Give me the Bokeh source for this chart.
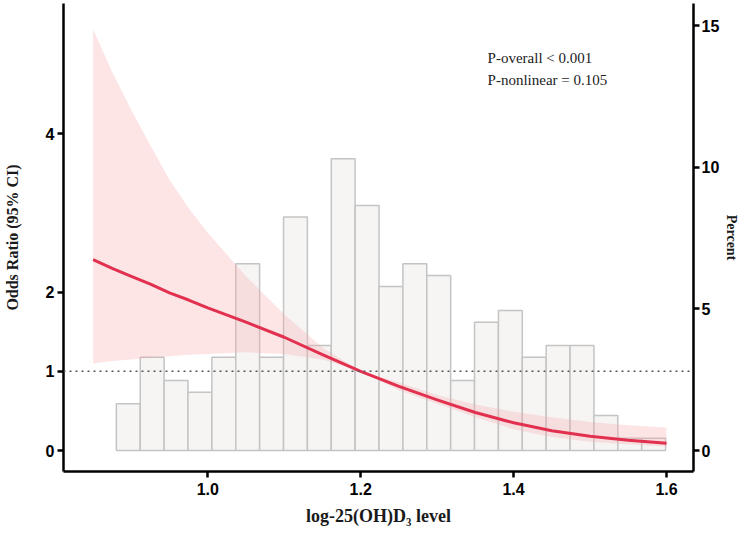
from bokeh.plotting import figure
from bokeh.models import Range1d, LinearAxis, FixedTicker, Span, Label, NumeralTickFormatter
from bokeh.embed import file_html
from bokeh.resources import INLINE

# ---- data ----
bin_centers = [0.8960, 0.9273, 0.9585, 0.9897, 1.0210, 1.0522, 1.0834, 1.1147,
               1.1459, 1.1771, 1.2084, 1.2396, 1.2708, 1.3021, 1.3333, 1.3645,
               1.3958, 1.4270, 1.4582, 1.4895, 1.5207, 1.5519, 1.5832]
bin_width = 0.0312
percent = [1.65, 3.29, 2.47, 2.06, 3.29, 6.59, 3.29, 8.24, 3.71, 10.30, 8.65, 5.79,
           6.59, 6.18, 2.47, 4.53, 4.94, 3.29, 3.71, 3.71, 1.24, 0.43, 0.43]

curve_x = [0.85, 0.875, 0.90, 0.925, 0.95, 0.975, 1.00, 1.05, 1.10, 1.15, 1.20,
           1.25, 1.30, 1.35, 1.40, 1.45, 1.50, 1.55, 1.60]
or_est = [2.41, 2.30, 2.20, 2.10, 1.99, 1.90, 1.80, 1.62, 1.43, 1.21, 1.00,
          0.81, 0.64, 0.48, 0.35, 0.25, 0.18, 0.13, 0.092]
or_upper = [5.32, 4.78, 4.30, 3.85, 3.42, 3.06, 2.75, 2.20, 1.72, 1.30, 1.00,
            0.86, 0.70, 0.58, 0.49, 0.42, 0.36, 0.32, 0.29]
or_lower = [1.10, 1.13, 1.15, 1.17, 1.19, 1.21, 1.22, 1.24, 1.22, 1.15, 1.00,
            0.76, 0.59, 0.42, 0.27, 0.17, 0.11, 0.075, 0.05]

x_ticks = [1.0, 1.2, 1.4, 1.6]
or_ticks = [0, 1, 2, 4]
pct_ticks = [0, 5, 10, 15]
ref_or = 1.0

annot_1 = "P-overall  < 0.001"
annot_2 = "P-nonlinear = 0.105"

# ---- figure ----
p = figure(width=744, height=533,
           x_range=Range1d(0.8113, 1.6353), y_range=Range1d(-0.265, 5.644),
           output_backend="svg", toolbar_location=None,
           min_border_left=61, min_border_right=51,
           min_border_top=3, min_border_bottom=62)
p.extra_y_ranges = {"pct": Range1d(-0.741, 15.78)}
p.xgrid.visible = False
p.ygrid.visible = False
p.outline_line_color = None
p.background_fill_color = "white"
p.border_fill_color = "white"

# histogram
p.vbar(x=bin_centers, width=bin_width, top=percent, bottom=0, y_range_name="pct",
       fill_color="#f6f5f4", line_color="#c4c4c4", line_width=1.5)

# confidence band
p.varea(x=curve_x, y1=or_lower, y2=or_upper, fill_color="#f7a8ab", fill_alpha=0.3)

# OR curve
p.line(curve_x, or_est, line_color="#e2304f", line_width=3, line_join="round")

# reference line
p.add_layout(Span(location=ref_or, dimension="width", line_color="#555555",
                  line_dash="2 4", line_width=1.5))

def style(ax):
    ax.axis_line_width = 2.5
    ax.axis_line_color = "black"
    ax.major_tick_line_width = 2.5
    ax.major_tick_line_color = "black"
    ax.major_tick_out = 6
    ax.major_tick_in = 0
    ax.minor_tick_line_color = None
    ax.major_label_text_font = "Liberation Sans"
    ax.major_label_text_font_style = "bold"
    ax.major_label_text_font_size = "16px"
    ax.major_label_text_color = "black"
    ax.axis_label_text_font = "Liberation Serif"
    ax.axis_label_text_font_style = "bold"
    ax.axis_label_text_font_size = "16px"
    ax.axis_label_text_color = "#1a1a1a"

xa = p.xaxis[0]
style(xa)
xa.ticker = FixedTicker(ticks=x_ticks)
xa.formatter = NumeralTickFormatter(format="0.0")
xa.axis_label = "log-25(OH)D\u2083 level"
xa.major_label_standoff = 5
xa.axis_label_standoff = 8
xa.axis_label_text_font_size = "18px"

ya = p.yaxis[0]
style(ya)
ya.ticker = FixedTicker(ticks=or_ticks)
ya.axis_label = "Odds Ratio (95% CI)"
ya.major_label_standoff = 3
ya.axis_label_standoff = 22

ra = LinearAxis(y_range_name="pct")
style(ra)
ra.ticker = FixedTicker(ticks=pct_ticks)
ra.axis_label = "Percent"
ra.major_label_standoff = 2
ra.axis_label_standoff = 2
ra.axis_label_text_font_size = "14px"
p.add_layout(ra, "right")

for txt, yv in [(annot_1, 4.96), (annot_2, 4.68)]:
    p.add_layout(Label(x=1.366, y=yv, text=txt, text_font="Liberation Serif",
                       text_font_size="15px", text_color="#222222",
                       text_baseline="middle", text_align="left"))

open("out.html", "w").write(file_html(p, INLINE))
